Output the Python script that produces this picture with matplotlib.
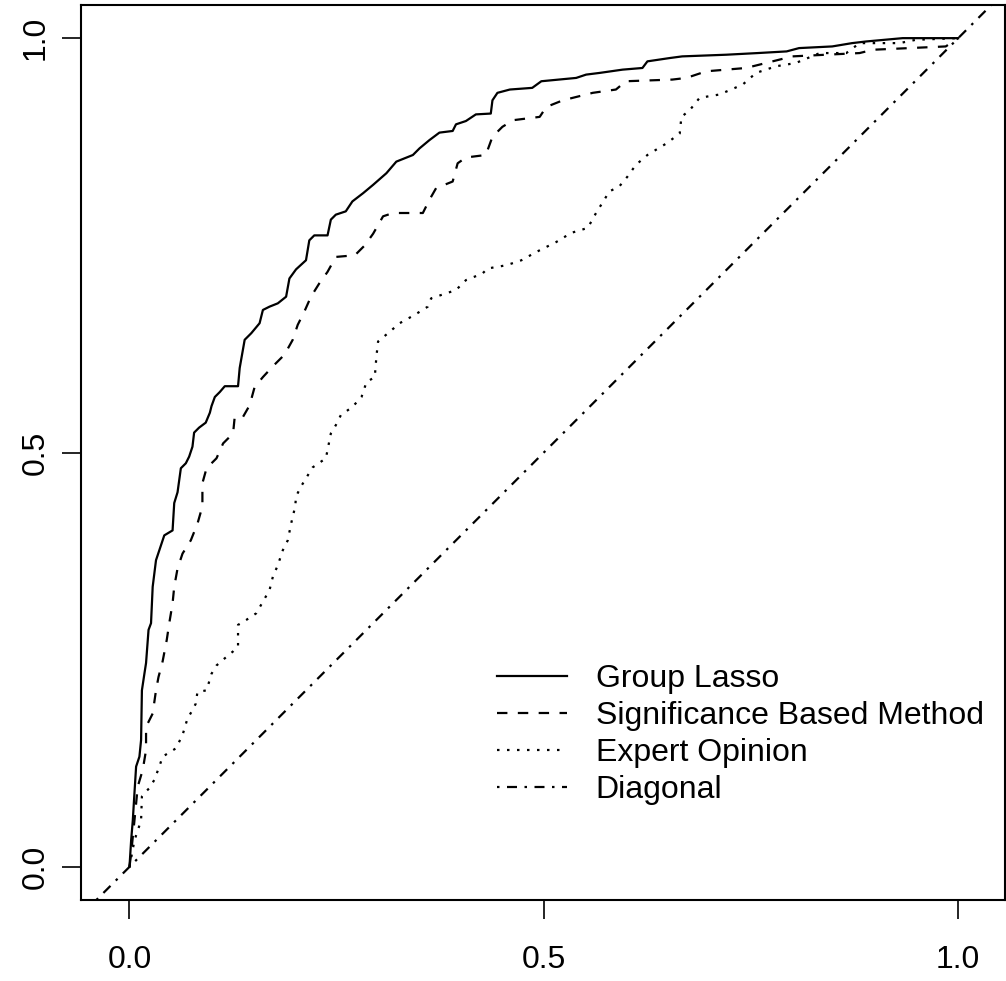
import matplotlib
matplotlib.use("Agg")
import matplotlib.pyplot as plt

plt.rcParams["font.family"] = ["Liberation Sans", "DejaVu Sans"]
plt.rcParams["lines.scale_dashes"] = False

# ROC points (false positive rate, true positive rate) for each selection method
lasso_fpr = [0, 0.001, 0.002, 0.004, 0.006, 0.008, 0.012, 0.014, 0.015, 0.018,
             0.020, 0.023, 0.026, 0.028, 0.032, 0.036, 0.042, 0.052, 0.054, 0.058,
             0.062, 0.068, 0.072, 0.076, 0.078, 0.084, 0.092, 0.097, 0.099, 0.103,
             0.109, 0.115, 0.131, 0.133, 0.139, 0.147, 0.157, 0.161, 0.169, 0.179,
             0.189, 0.193, 0.201, 0.213, 0.217, 0.223, 0.239, 0.243, 0.249, 0.261,
             0.269, 0.282, 0.294, 0.310, 0.322, 0.342, 0.350, 0.362, 0.374, 0.390,
             0.394, 0.406, 0.418, 0.436, 0.438, 0.444, 0.459, 0.486, 0.497, 0.539,
             0.551, 0.567, 0.595, 0.619, 0.625, 0.652, 0.667, 0.720, 0.758, 0.793,
             0.808, 0.848, 0.872, 0.889, 0.933, 1.0]
lasso_tpr = [0, 0.016, 0.032, 0.056, 0.089, 0.121, 0.133, 0.153, 0.213, 0.233,
             0.246, 0.286, 0.294, 0.338, 0.370, 0.382, 0.400, 0.406, 0.439, 0.452,
             0.481, 0.487, 0.495, 0.507, 0.524, 0.530, 0.536, 0.548, 0.556, 0.567,
             0.573, 0.580, 0.580, 0.602, 0.636, 0.644, 0.656, 0.672, 0.676, 0.680,
             0.688, 0.710, 0.721, 0.732, 0.756, 0.762, 0.762, 0.781, 0.787, 0.791,
             0.803, 0.813, 0.823, 0.837, 0.851, 0.859, 0.867, 0.877, 0.886, 0.888,
             0.896, 0.900, 0.908, 0.909, 0.925, 0.934, 0.938, 0.940, 0.948, 0.952,
             0.956, 0.958, 0.962, 0.964, 0.972, 0.976, 0.978, 0.980, 0.982, 0.984,
             0.988, 0.990, 0.994, 0.996, 1.0, 1.0]

signif_fpr = [0, 0.002, 0.004, 0.006, 0.010, 0.016, 0.020, 0.020, 0.028, 0.032,
              0.035, 0.040, 0.045, 0.048, 0.052, 0.054, 0.058, 0.064, 0.074, 0.082,
              0.088, 0.088, 0.093, 0.105, 0.113, 0.125, 0.127, 0.137, 0.145, 0.151,
              0.161, 0.173, 0.187, 0.197, 0.203, 0.211, 0.219, 0.229, 0.239, 0.249,
              0.272, 0.284, 0.294, 0.306, 0.318, 0.354, 0.362, 0.370, 0.390, 0.396,
              0.406, 0.430, 0.438, 0.450, 0.463, 0.495, 0.503, 0.523, 0.559, 0.587,
              0.599, 0.655, 0.672, 0.696, 0.744, 0.768, 0.800, 0.881, 0.897, 0.985,
              1.0]
signif_tpr = [0, 0.016, 0.036, 0.056, 0.097, 0.117, 0.141, 0.169, 0.185, 0.213,
              0.229, 0.248, 0.274, 0.294, 0.318, 0.338, 0.360, 0.378, 0.394, 0.414,
              0.435, 0.463, 0.481, 0.493, 0.511, 0.523, 0.543, 0.543, 0.557, 0.579,
              0.591, 0.604, 0.618, 0.636, 0.654, 0.670, 0.688, 0.704, 0.718, 0.736,
              0.738, 0.750, 0.764, 0.785, 0.789, 0.789, 0.805, 0.819, 0.827, 0.849,
              0.856, 0.859, 0.881, 0.893, 0.901, 0.905, 0.917, 0.925, 0.934, 0.938,
              0.948, 0.950, 0.952, 0.960, 0.964, 0.970, 0.978, 0.982, 0.986, 0.990,
              1.0]

expert_fpr = [0, 0.006, 0.010, 0.014, 0.015, 0.018, 0.024, 0.030, 0.036, 0.040,
              0.056, 0.064, 0.070, 0.076, 0.080, 0.082, 0.093, 0.099, 0.105, 0.113,
              0.125, 0.131, 0.131, 0.141, 0.153, 0.161, 0.169, 0.173, 0.179, 0.185,
              0.191, 0.195, 0.200, 0.201, 0.207, 0.221, 0.237, 0.243, 0.249, 0.255,
              0.269, 0.280, 0.286, 0.296, 0.298, 0.300, 0.312, 0.326, 0.344, 0.360,
              0.364, 0.382, 0.394, 0.406, 0.426, 0.432, 0.455, 0.473, 0.491, 0.515,
              0.533, 0.553, 0.563, 0.573, 0.579, 0.591, 0.601, 0.611, 0.625, 0.648,
              0.664, 0.666, 0.676, 0.688, 0.712, 0.740, 0.756, 0.780, 0.804, 0.833,
              0.865, 0.881, 0.929, 0.949, 1.0]
expert_tpr = [0, 0.032, 0.044, 0.056, 0.085, 0.089, 0.095, 0.105, 0.121, 0.133,
              0.143, 0.159, 0.179, 0.189, 0.197, 0.211, 0.213, 0.233, 0.243, 0.250,
              0.260, 0.266, 0.292, 0.298, 0.306, 0.320, 0.334, 0.350, 0.364, 0.382,
              0.394, 0.414, 0.435, 0.447, 0.459, 0.482, 0.493, 0.523, 0.533, 0.545,
              0.555, 0.567, 0.585, 0.591, 0.616, 0.634, 0.644, 0.656, 0.666, 0.676,
              0.686, 0.692, 0.696, 0.708, 0.716, 0.722, 0.726, 0.732, 0.742, 0.754,
              0.765, 0.771, 0.789, 0.805, 0.815, 0.821, 0.833, 0.847, 0.859, 0.873,
              0.885, 0.905, 0.913, 0.928, 0.932, 0.944, 0.958, 0.966, 0.970, 0.982,
              0.982, 0.994, 0.994, 0.998, 1.0]

labels = ["Group Lasso", "Significance Based Method", "Expert Opinion", "Diagonal"]
ticks = [0.0, 0.5, 1.0]
tick_labels = ["0.0", "0.5", "1.0"]

LW = 1.6
DASHED = (0, (7.5, 7.5))
DOTTED = (0, (1.8, 5.4))
DOTDASH = (0, (1.8, 5.4, 7.2, 5.4))

fig = plt.figure(figsize=(10.06, 9.81), dpi=100)
ax = fig.add_axes([81 / 1006, 81 / 981, 924 / 1006, 895 / 981])

ax.plot(lasso_fpr, lasso_tpr, color="black", lw=LW, ls="-", label=labels[0])
ax.plot(signif_fpr, signif_tpr, color="black", lw=LW, ls=DASHED, label=labels[1])
ax.plot(expert_fpr, expert_tpr, color="black", lw=LW, ls=DOTTED, label=labels[2])
ax.axline((0, 0), slope=1, color="black", lw=LW, ls=DOTDASH, label=labels[3])

ax.set_xlim(-0.0585, 1.0565)
ax.set_ylim(-0.04, 1.04)

for s in ax.spines.values():
    s.set_linewidth(1.5)
ax.set_xticks(ticks)
ax.set_xticklabels(tick_labels)
ax.set_yticks(ticks)
ax.set_yticklabels(tick_labels, rotation=90, va="center")
ax.tick_params(direction="out", length=13.7, width=1.2, labelsize=23)
ax.tick_params(axis="x", pad=19)
ax.tick_params(axis="y", pad=8)

ax.legend(loc="upper left", bbox_to_anchor=(0.450, 0.264), frameon=False,
          fontsize=23, handlelength=2.2, handletextpad=0.9, labelspacing=0.22,
          borderpad=0, borderaxespad=0)

fig.savefig("out.png", dpi=100)
